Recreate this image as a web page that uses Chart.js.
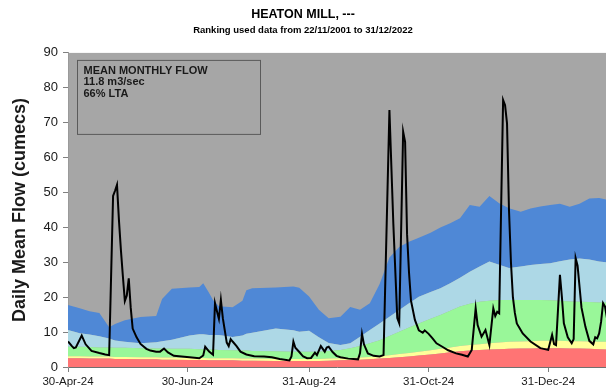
<!DOCTYPE html>
<html>
<head>
<meta charset="utf-8">
<script src="https://cdn.jsdelivr.net/npm/chart.js@4.4.1/dist/chart.umd.min.js"></script>
<style>
  html, body { margin: 0; padding: 0; background: #ffffff; overflow: hidden; }
  canvas { display: block; }
</style>
</head>
<body>
<canvas id="flowChart" width="606" height="391"></canvas>
<script>
// x axis is in days counted from 30-Apr-24
const tickDays = [0, 61, 123, 184, 245];
const tickLabels = ['30-Apr-24', '30-Jun-24', '31-Aug-24', '31-Oct-24', '31-Dec-24'];
const lastVisibleDay = 274.5;

// Daily mean flow (cumecs)
const flowDays = [
  0, 2, 3, 4, 7, 9, 12, 16, 19, 21, 23, 24, 25, 26, 27, 28, 29, 30, 31, 32, 33, 35, 37, 40, 42, 45, 47, 49, 51, 54,
  58, 62, 67, 69, 70, 72, 74, 75, 76, 77, 78, 79, 80, 81, 82, 83, 84, 86, 88, 91, 95, 100, 104, 108, 113, 114, 115, 116, 118, 120,
  122, 124, 126, 127, 129, 131, 132, 133, 135, 137, 139, 143, 148, 149, 150, 151, 153, 156, 159, 161, 164, 166, 168, 169, 171, 172, 173, 174, 175, 177,
  179, 181, 182, 184, 186, 188, 191, 194, 198, 201, 204, 206, 208, 209, 211, 213, 215, 217, 218, 219, 220, 222, 223, 224, 225, 226, 227, 228, 229, 230,
  232, 236, 241, 245, 247, 248, 249, 251, 252, 253, 255, 257, 258, 259, 260, 261, 262, 264, 266, 268, 269, 270, 271, 272, 273, 274, 275
];
const flowValues = [
  7.3, 6.0, 5.4, 5.6, 9.0, 6.5, 4.6, 4.0, 3.6, 3.4, 49.0, 50.5, 52.2, 42.0, 33.5, 26.0, 18.9, 20.5, 25.4, 17.0, 11.0, 8.5, 6.6, 5.2, 4.7, 4.4, 4.4, 5.3, 4.2, 3.2,
  3.0, 2.8, 2.5, 3.3, 5.8, 4.4, 3.5, 18.3, 16.0, 13.8, 19.2, 14.0, 10.5, 7.0, 6.0, 8.0, 7.3, 6.0, 4.4, 3.6, 3.1, 3.0, 2.8, 2.3, 1.9, 3.0, 7.3, 5.5, 4.3, 3.0,
  2.5, 2.6, 4.1, 3.4, 6.0, 4.4, 5.6, 5.8, 4.3, 3.2, 2.8, 2.4, 2.2, 4.0, 9.5, 6.5, 3.9, 3.2, 3.0, 3.4, 73.6, 41.0, 14.0, 12.5, 67.4, 64.5, 38.0, 27.0, 19.0, 13.5,
  10.5, 9.8, 10.5, 9.5, 8.2, 6.8, 5.8, 4.8, 3.9, 3.5, 3.0, 4.9, 16.8, 12.0, 8.7, 10.6, 6.3, 16.8, 14.6, 15.8, 15.4, 76.5, 75.0, 69.8, 45.0, 30.0, 20.0, 15.5, 12.5, 11.5,
  9.6, 7.3, 5.4, 4.9, 9.2, 6.6, 6.3, 26.4, 20.0, 12.5, 8.5, 6.8, 8.0, 31.2, 29.0, 23.0, 17.0, 11.5, 7.5, 6.5, 8.5, 8.2, 9.6, 13.0, 18.3, 17.3, 14.0
];

// Ranking bands: upper edge of each band (cumecs), lowest band first
const bandDays = [
  0, 6, 11, 16, 21, 24, 29, 37, 45, 48, 53, 62, 67, 69, 72, 74, 77, 84, 89, 91,
  94, 106, 115, 118, 123, 128, 133, 139, 144, 149, 154, 159, 164, 169, 174, 179, 185, 190, 195, 200,
  205, 210, 215, 220, 225, 231, 236, 241, 246, 251, 256, 261, 266, 271, 275
];
const redTop = [
  2.5, 2.5, 2.4, 2.4, 2.4, 2.3, 2.3, 2.2, 2.2, 2.1, 2.1, 2.0, 2.0, 2.0, 1.9, 1.9, 1.9, 1.9, 1.8, 1.8,
  1.8, 1.7, 1.7, 1.7, 1.7, 1.7, 1.8, 1.9, 2.0, 2.1, 2.2, 2.4, 2.6, 2.8, 3.0, 3.3, 3.6, 3.9, 4.2, 4.5,
  4.7, 4.9, 5.0, 5.1, 5.2, 5.3, 5.3, 5.4, 5.4, 5.4, 5.3, 5.3, 5.2, 5.1, 5.0
];
const yellowTop = [
  3.1, 3.1, 3.0, 3.0, 3.0, 2.9, 2.9, 2.8, 2.8, 2.7, 2.7, 2.6, 2.6, 2.6, 2.5, 2.5, 2.5, 2.5, 2.4, 2.4,
  2.4, 2.3, 2.3, 2.3, 2.3, 2.3, 2.4, 2.5, 2.6, 2.7, 2.9, 3.1, 3.4, 3.7, 4.0, 4.4, 4.8, 5.2, 5.6, 6.0,
  6.3, 6.5, 6.8, 7.0, 7.2, 7.3, 7.4, 7.5, 7.5, 7.5, 7.4, 7.4, 7.3, 7.2, 7.2
];
const greenTop = [
  5.8, 5.8, 5.7, 5.6, 5.6, 5.5, 5.5, 5.4, 5.3, 5.3, 5.2, 5.2, 5.1, 5.1, 5.0, 5.0, 4.9, 4.8, 4.7, 4.7,
  4.6, 4.5, 4.4, 4.4, 4.4, 4.4, 4.6, 4.9, 5.4, 6.0, 6.8, 7.7, 8.9, 10.1, 11.3, 12.5, 13.8, 14.9, 16.1, 17.3,
  18.1, 18.7, 19.0, 19.2, 19.2, 19.2, 19.2, 19.2, 19.1, 19.0, 18.8, 18.7, 18.6, 18.5, 18.5
];
const lightBlueTop = [
  10.6, 9.7, 9.3, 8.8, 8.2, 7.6, 7.2, 6.8, 7.1, 7.4, 7.8, 9.0, 9.4, 9.4, 9.2, 9.2, 9.2, 8.6, 9.0, 9.5,
  9.8, 11.0, 10.5, 10.1, 10.4, 8.5, 6.9, 6.3, 6.8, 8.7, 10.6, 12.5, 14.4, 16.3, 18.3, 20.1, 21.5, 22.6, 24.0, 25.6,
  27.3, 28.8, 30.2, 29.3, 28.4, 28.8, 29.2, 29.5, 29.7, 30.3, 30.8, 31.1, 30.8, 30.2, 30.0
];
const blueTop = [
  17.8, 16.8, 16.0, 15.5, 11.4, 12.3, 13.4, 14.3, 14.6, 19.5, 22.4, 22.8, 22.9, 24.0, 21.2, 19.2, 17.4, 17.1, 19.0, 22.0,
  22.6, 22.8, 23.1, 22.7, 20.2, 16.4, 14.0, 14.4, 17.2, 16.4, 18.3, 23.8, 31.4, 34.4, 35.9, 37.0, 38.5, 40.0, 41.2, 42.6,
  46.4, 45.9, 49.0, 46.9, 45.5, 44.5, 45.4, 46.0, 46.4, 46.8, 45.9, 46.8, 48.3, 48.4, 47.9
];

const infoLines = ['MEAN MONTHLY FLOW', '11.8 m3/sec', '66% LTA'];

const FONT = "'Liberation Sans', Arial, Helvetica, sans-serif";
const toPoints = (xs, ys) => xs.map((x, i) => ({ x: x, y: ys[i] }));

function band(label, values, color, fill) {
  return {
    label: label,
    data: toPoints(bandDays, values),
    backgroundColor: color,
    borderColor: color,
    borderWidth: 0,
    pointRadius: 0,
    fill: fill,
    tension: 0
  };
}

// grey plot background behind the bands
const plotBackground = {
  id: 'plotBackground',
  beforeDraw(chart) {
    const { ctx, chartArea: a } = chart;
    ctx.save();
    ctx.fillStyle = '#a6a6a6';
    ctx.fillRect(a.left, a.top, a.right - a.left, a.bottom - a.top);
    ctx.restore();
  }
};

// summary box in the top-left corner of the plot
const infoBox = {
  id: 'infoBox',
  afterDraw(chart) {
    const { ctx, chartArea: a } = chart;
    const x = a.left + 9.5, y = a.top + 7.5, w = 183, h = 74;
    ctx.save();
    ctx.strokeStyle = '#5a5a5a';
    ctx.lineWidth = 1;
    ctx.strokeRect(x, y, w, h);
    ctx.fillStyle = '#1a1a1a';
    ctx.font = 'bold 11px ' + FONT;
    ctx.textBaseline = 'middle';
    ctx.textAlign = 'left';
    infoLines.forEach((t, i) => ctx.fillText(t, x + 6, y + 10.5 + i * 11.5));
    ctx.restore();
  }
};

new Chart(document.getElementById('flowChart'), {
  type: 'line',
  data: {
    datasets: [
      {
        label: 'Daily mean flow',
        data: toPoints(flowDays, flowValues),
        borderColor: '#000000',
        borderWidth: 2,
        pointRadius: 0,
        fill: false,
        tension: 0
      },
      band('Band 1', redTop, '#ff7474', 'origin'),
      band('Band 2', yellowTop, '#ffff99', '-1'),
      band('Band 3', greenTop, '#99f799', '-1'),
      band('Band 4', lightBlueTop, '#add8e6', '-1'),
      band('Band 5', blueTop, '#4f88d6', '-1')
    ]
  },
  options: {
    responsive: false,
    animation: false,
    events: [],
    layout: { padding: { left: 0, right: 0, top: 0, bottom: 0 } },
    plugins: {
      legend: { display: false },
      tooltip: { enabled: false },
      title: {
        display: true,
        text: 'HEATON MILL, ---',
        color: '#000000',
        font: { family: FONT, size: 12.5, weight: 'bold' },
        padding: { top: 7.5, bottom: 0 }
      },
      subtitle: {
        display: true,
        text: 'Ranking used data from 22/11/2001 to 31/12/2022',
        color: '#000000',
        font: { family: FONT, size: 9.5, weight: 'bold' },
        padding: { top: 2, bottom: 17 }
      }
    },
    scales: {
      x: {
        type: 'linear',
        min: 0,
        max: lastVisibleDay,
        z: 1,
        afterFit(scale) { scale.height = 24; },
        afterBuildTicks(scale) { scale.ticks = tickDays.map(v => ({ value: v })); },
        ticks: {
          autoSkip: false,
          maxRotation: 0,
          padding: 3,
          color: '#1a1a1a',
          font: { family: FONT, size: 11.5 },
          callback(value) {
            const i = tickDays.indexOf(value);
            return i >= 0 ? tickLabels[i] : '';
          }
        },
        grid: { drawOnChartArea: false, drawTicks: true, tickLength: 5, color: '#808080' },
        border: { display: true, color: '#707070', width: 1 }
      },
      y: {
        min: 0,
        max: 90,
        z: 1,
        afterFit(scale) { scale.width = 68; },
        ticks: {
          stepSize: 10,
          padding: 5,
          color: '#1a1a1a',
          font: { family: FONT, size: 13 }
        },
        grid: { drawOnChartArea: false, drawTicks: true, tickLength: 5, color: '#808080' },
        border: { display: true, color: '#9a9a9a', width: 1 },
        title: {
          display: true,
          text: 'Daily Mean Flow (cumecs)',
          color: '#1a1a1a',
          font: { family: FONT, size: 18, weight: 'bold' },
          padding: { top: 9, bottom: 0 }
        }
      }
    }
  },
  plugins: [plotBackground, infoBox]
});
</script>
</body>
</html>
